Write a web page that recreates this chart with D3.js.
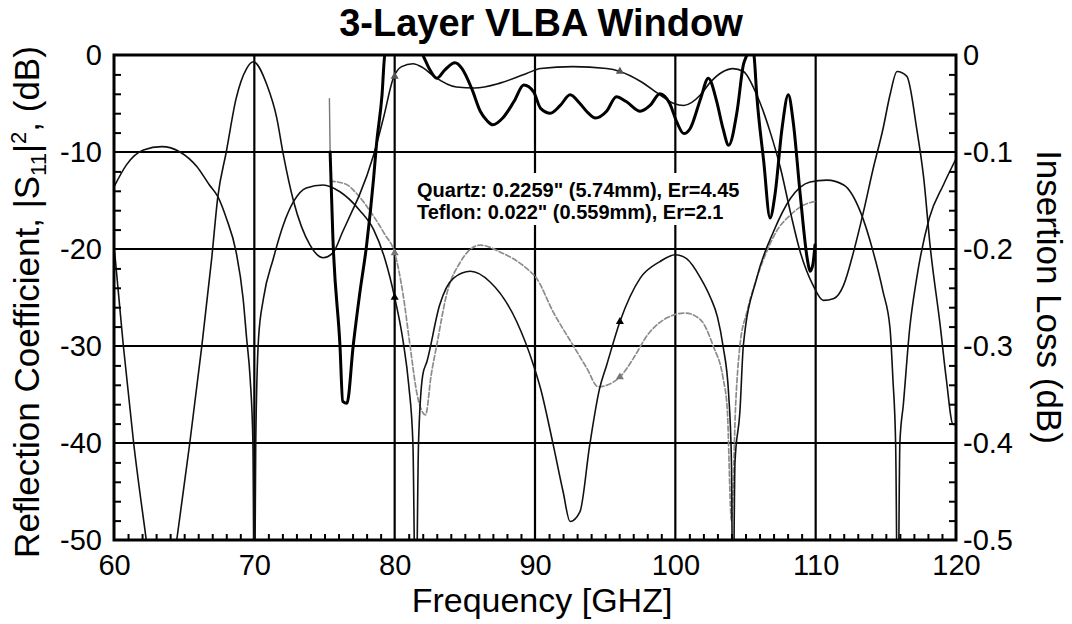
<!DOCTYPE html>
<html><head><meta charset="utf-8">
<script src="https://cdn.jsdelivr.net/npm/d3@7/dist/d3.min.js"></script>
<style>body{margin:0;background:#fff}svg{display:block}</style>
</head><body>
<svg id="c" width="1072" height="624"></svg>
<script>
// ---------- data ----------
const titleText = "3-Layer VLBA Window";
const xTitle = "Frequency [GHZ]";
const rightTitle = "Insertion Loss (dB)";
const noteLines = ['Quartz: 0.2259" (5.74mm), Er=4.45', 'Teflon: 0.022" (0.559mm), Er=2.1'];
const freqTicks = [60, 70, 80, 90, 100, 110, 120];
const s11Ticks = [0, -10, -20, -30, -40, -50];
const ilTicks = [0, -0.1, -0.2, -0.3, -0.4, -0.5];

// S11 theory (thin black, left axis, dB)
const s11TheoryFreq = [60.0,60.9,62.1,63.4,64.7,65.9,66.8,67.4,68.0,68.7,69.2,69.45,69.7,69.9,70.0,70.1,70.3,70.65,71.35,72.07,72.8,73.7,74.9,76.1,77.5,78.5,79.3,80.0,80.6,81.0,81.3,81.5,81.7,82.0,82.3,83.2,84.2,85.4,86.8,88.7,89.9,90.4,91.3,92.0,92.5,93.2,93.9,94.6,95.1,96.05,97.5,98.9,100.0,100.8,101.8,102.5,103.0,103.4,103.8,104.0,104.1,104.25,104.6,104.85,105.8,107.0,108.2,109.6,110.8,112.0,113.2,114.1,114.8,115.3,115.5,115.7,115.85,116.0,116.25,116.7,117.2,118.1,119.1,120.0];
const s11TheoryDb = [-13.6,-11.3,-9.8,-9.45,-10.0,-11.5,-13.4,-14.6,-16.8,-20.3,-25.1,-29.2,-33.3,-40,-60,-40,-29.2,-25.1,-21.0,-17.5,-15.1,-13.7,-13.4,-14.1,-16.0,-18.0,-21.0,-25.0,-29.5,-34,-40,-60,-40,-33,-31.6,-25.8,-23.0,-22.3,-23.4,-27.5,-32.0,-34.4,-40.2,-45,-48.1,-47.1,-40.2,-34.4,-32.0,-27.5,-23.0,-21.3,-20.6,-21.0,-23.0,-25.0,-27.0,-30.0,-35.0,-42,-60,-42,-36.8,-29.9,-23.0,-18.2,-14.8,-13.1,-12.9,-13.4,-16.2,-20.3,-24.4,-28.2,-33.3,-40.2,-60,-40,-36,-28.2,-23.0,-16.8,-13.4,-10.7];

// S11 measured (grey dashed, left axis, dB)
const s11MeasFreq = [75.4,76.5,77.3,78.3,79.3,80.0,80.6,81.1,81.6,82.2,82.6,83.0,83.7,84.7,86.1,87.5,89.4,90.1,91.3,92.7,93.7,94.5,95.6,96.05,97.0,98.0,99.4,100.7,101.8,102.7,103.4,103.7,104.0,104.3,104.6,105.1,105.8,106.5,107.2,108.2,109.1,110.0];
const s11MeasDb = [-13.0,-13.3,-14.3,-16.2,-18.5,-20.4,-24.7,-30.0,-35.0,-37.1,-33.0,-29.9,-24.7,-21.3,-19.6,-20.3,-22.0,-23.0,-26.5,-29.9,-32.3,-34.2,-33.7,-33.2,-31.3,-28.9,-27.1,-26.6,-27.3,-30.0,-33.3,-36.5,-48,-36,-30.0,-26.5,-23.0,-20.3,-18.2,-16.5,-15.5,-15.1];

// Insertion loss theory (thin black, right axis, dB)
const ilTheoryFreq = [60.0,60.66,61.4,62.3,63.4,64.47,65.4,66.25,66.96,67.4,68.0,68.7,69.45,69.93,70.9,71.6,72.07,72.8,73.97,74.9,75.6,76.3,77.0,77.5,78.5,79.2,79.9,80.5,81.3,82.0,82.8,84.4,85.7,87.5,89.4,90.4,92.7,95.1,96.05,97.5,98.9,99.9,100.6,101.8,102.5,103.3,104.1,104.85,105.8,106.75,107.5,108.2,108.9,109.8,110.55,111.3,112.0,112.7,113.4,114.1,114.8,115.3,115.8,116.5,117.2,117.7,118.15,118.9,119.3,119.8,120.0];
const ilTheoryDb = [-0.196,-0.299,-0.40,-0.50,-0.62,-0.50,-0.40,-0.301,-0.21,-0.146,-0.10,-0.045,-0.014,-0.007,-0.031,-0.065,-0.103,-0.151,-0.196,-0.209,-0.204,-0.182,-0.16,-0.144,-0.103,-0.065,-0.024,-0.012,-0.009,-0.013,-0.022,-0.033,-0.034,-0.029,-0.019,-0.014,-0.012,-0.014,-0.017,-0.027,-0.041,-0.050,-0.052,-0.041,-0.028,-0.018,-0.014,-0.017,-0.041,-0.079,-0.117,-0.162,-0.203,-0.237,-0.253,-0.251,-0.237,-0.203,-0.162,-0.117,-0.076,-0.041,-0.017,-0.022,-0.076,-0.127,-0.196,-0.282,-0.333,-0.381,-0.381];

// Insertion loss measured (thick black, right axis, dB)
const ilMeasFreq = [75.35,75.4,75.6,76.1,76.3,76.6,77.05,77.5,78.0,78.5,78.7,79.1,79.3,80.0,81.0,82.0,82.5,83.0,83.6,84.3,84.8,85.5,86.1,86.6,87.0,87.7,88.5,89.2,89.9,90.4,91.1,91.8,92.5,93.2,93.8,94.3,95.1,95.8,96.5,97.5,98.2,98.9,99.6,100.1,100.6,101.05,101.8,102.35,102.95,103.4,103.8,104.4,104.85,105.1,105.35,105.6,105.8,106.3,106.75,107.1,107.6,108.05,108.4,108.9,109.4,109.6,109.8,109.95];
const ilMeasDb = [-0.045,-0.10,-0.189,-0.299,-0.357,-0.359,-0.299,-0.247,-0.196,-0.127,-0.093,-0.041,0.0,0.015,0.02,0.0,-0.015,-0.024,-0.015,-0.008,-0.014,-0.035,-0.058,-0.068,-0.072,-0.065,-0.048,-0.031,-0.038,-0.055,-0.060,-0.052,-0.041,-0.050,-0.060,-0.065,-0.058,-0.043,-0.048,-0.058,-0.052,-0.040,-0.050,-0.069,-0.081,-0.076,-0.045,-0.024,-0.048,-0.076,-0.093,-0.058,-0.010,0.0,0.01,0.0,-0.041,-0.11,-0.168,-0.144,-0.076,-0.041,-0.069,-0.144,-0.21,-0.223,-0.216,-0.196];

// markers (frequency positions)
const markerFreqs = [80, 96.05];

// ---------- chart ----------
const svg = d3.select("#c");
const FONT = "'Liberation Sans', Arial, Helvetica, sans-serif";
const L = 114, R = 956, T = 55, B = 540;
const x = d3.scaleLinear().domain([60, 120]).range([L, R]);
const yL = d3.scaleLinear().domain([-50, 0]).range([B, T]);
const yR = d3.scaleLinear().domain([-0.5, 0]).range([B, T]);

svg.append("rect").attr("width", 1072).attr("height", 624).attr("fill", "#fff");

// grid
const grid = svg.append("g").attr("stroke", "#000").attr("stroke-width", 2.2);
freqTicks.filter(f => f > 60 && f < 120).forEach(f => {
  grid.append("line").attr("x1", x(f)).attr("x2", x(f)).attr("y1", T).attr("y2", B);
});
s11Ticks.filter(v => v < 0 && v > -50).forEach(v => {
  grid.append("line").attr("x1", L).attr("x2", R).attr("y1", yL(v)).attr("y2", yL(v));
});

// note box (hides grid)
svg.append("rect").attr("x", 410).attr("y", 173).attr("width", 326).attr("height", 52).attr("fill", "#fff");

// curves
svg.append("clipPath").attr("id", "clip").append("rect")
  .attr("x", L).attr("y", T).attr("width", R - L).attr("height", B - T);
const plot = svg.append("g").attr("clip-path", "url(#clip)");

function draw(fx, fy, yS, stroke, width, dash) {
  const pts = fx.map((f, i) => [f, fy[i]]);
  const line = d3.line().x(d => x(d[0])).y(d => yS(d[1])).curve(d3.curveMonotoneX);
  plot.append("path").attr("d", line(pts)).attr("fill", "none")
    .attr("stroke", stroke).attr("stroke-width", width)
    .attr("stroke-linejoin", "round").attr("stroke-linecap", "round")
    .attr("stroke-dasharray", dash || null);
}
draw(s11MeasFreq, s11MeasDb, yL, "#8c8c8c", 1.7, "5,2.5");
draw(s11TheoryFreq, s11TheoryDb, yL, "#111", 1.6);
draw(ilTheoryFreq, ilTheoryDb, yR, "#111", 1.6);
draw(ilMeasFreq.slice(0, 2), ilMeasDb.slice(0, 2), yR, "#777", 1.4);
draw(ilMeasFreq.slice(1), ilMeasDb.slice(1), yR, "#000", 3.0);

// markers
function interp(fx, fy, f) {
  for (let i = 1; i < fx.length; i++) {
    if (fx[i] >= f) { const t = (f - fx[i-1]) / (fx[i] - fx[i-1]); return fy[i-1] + t * (fy[i] - fy[i-1]); }
  }
  return fy[fy.length - 1];
}
const tri = d3.symbol(d3.symbolTriangle).size(28);
markerFreqs.forEach(f => {
  svg.append("path").attr("d", tri()).attr("transform", `translate(${x(f)},${yL(interp(s11TheoryFreq, s11TheoryDb, f))})`).attr("fill", "#000");
  svg.append("path").attr("d", tri()).attr("transform", `translate(${x(f)},${yL(interp(s11MeasFreq, s11MeasDb, f))})`).attr("fill", "#777");
  svg.append("path").attr("d", tri()).attr("transform", `translate(${x(f)},${yR(interp(ilTheoryFreq, ilTheoryDb, f))})`).attr("fill", "#555");
});

// frame
svg.append("rect").attr("x", L).attr("y", T).attr("width", R - L).attr("height", B - T)
  .attr("fill", "none").attr("stroke", "#000").attr("stroke-width", 3);

// minor ticks
const minorF = d3.range(61, 120).filter(f => f % 10 !== 0);
const minorDb = d3.range(-48, 0, 2).filter(v => v % 10 !== 0);
const minorIL = d3.range(-48, 0, 2).filter(v => v % 10 !== 0).map(v => v / 100);
function styleTicks(g) { g.select(".domain").remove(); g.selectAll("line").attr("stroke", "#000").attr("stroke-width", 2); }
svg.append("g").attr("transform", `translate(0,${B})`)
  .call(d3.axisBottom(x).tickValues(minorF).tickSize(-6).tickFormat("")).call(styleTicks);
svg.append("g").attr("transform", `translate(${L},0)`)
  .call(d3.axisLeft(yL).tickValues(minorDb).tickSize(-7).tickFormat("")).call(styleTicks);
svg.append("g").attr("transform", `translate(${R},0)`)
  .call(d3.axisRight(yR).tickValues(minorIL).tickSize(-7).tickFormat("")).call(styleTicks);

// labels
function styleLabels(g, size) {
  g.select(".domain").remove();
  g.attr("font-family", FONT).attr("font-size", size);
  g.selectAll("text").attr("fill", "#000");
}
svg.append("g").attr("transform", `translate(${L},0)`)
  .call(d3.axisLeft(yL).tickValues(s11Ticks).tickSize(0).tickPadding(12).tickFormat(d => String(d)))
  .call(g => styleLabels(g, 29));
svg.append("g").attr("transform", `translate(${R},0)`)
  .call(d3.axisRight(yR).tickValues(ilTicks).tickSize(0).tickPadding(7).tickFormat(d => d === 0 ? "0" : d.toFixed(1)))
  .call(g => styleLabels(g, 29));
svg.append("g").attr("transform", `translate(0,${B})`)
  .call(d3.axisBottom(x).tickValues(freqTicks).tickSize(0).tickPadding(14).tickFormat(d => String(d)))
  .call(g => styleLabels(g, 29));

// titles
svg.append("text").attr("x", 541).attr("y", 36).attr("text-anchor", "middle")
  .attr("font-family", FONT).attr("font-weight", "bold").attr("font-size", 38).text(titleText);
svg.append("text").attr("x", 542).attr("y", 612).attr("text-anchor", "middle")
  .attr("font-family", FONT).attr("font-size", 34).text(xTitle);
const lt = svg.append("text").attr("transform", "translate(39,302) rotate(-90)").attr("text-anchor", "middle")
  .attr("font-family", FONT).attr("font-size", 35);
lt.append("tspan").text("Reflection Coefficient, |S");
lt.append("tspan").attr("font-size", 22).attr("dy", 7).text("11");
lt.append("tspan").attr("dy", -7).text("|");
lt.append("tspan").attr("font-size", 22).attr("dy", -13).text("2");
lt.append("tspan").attr("dy", 13).text(", (dB)");
svg.append("text").attr("transform", "translate(1037,297) rotate(90)").attr("text-anchor", "middle")
  .attr("font-family", FONT).attr("font-size", 35).text(rightTitle);

// note
noteLines.forEach((t, i) => {
  svg.append("text").attr("x", 417).attr("y", 197 + i * 22)
    .attr("font-family", FONT).attr("font-weight", "bold").attr("font-size", 20).text(t);
});
</script>
</body></html>
